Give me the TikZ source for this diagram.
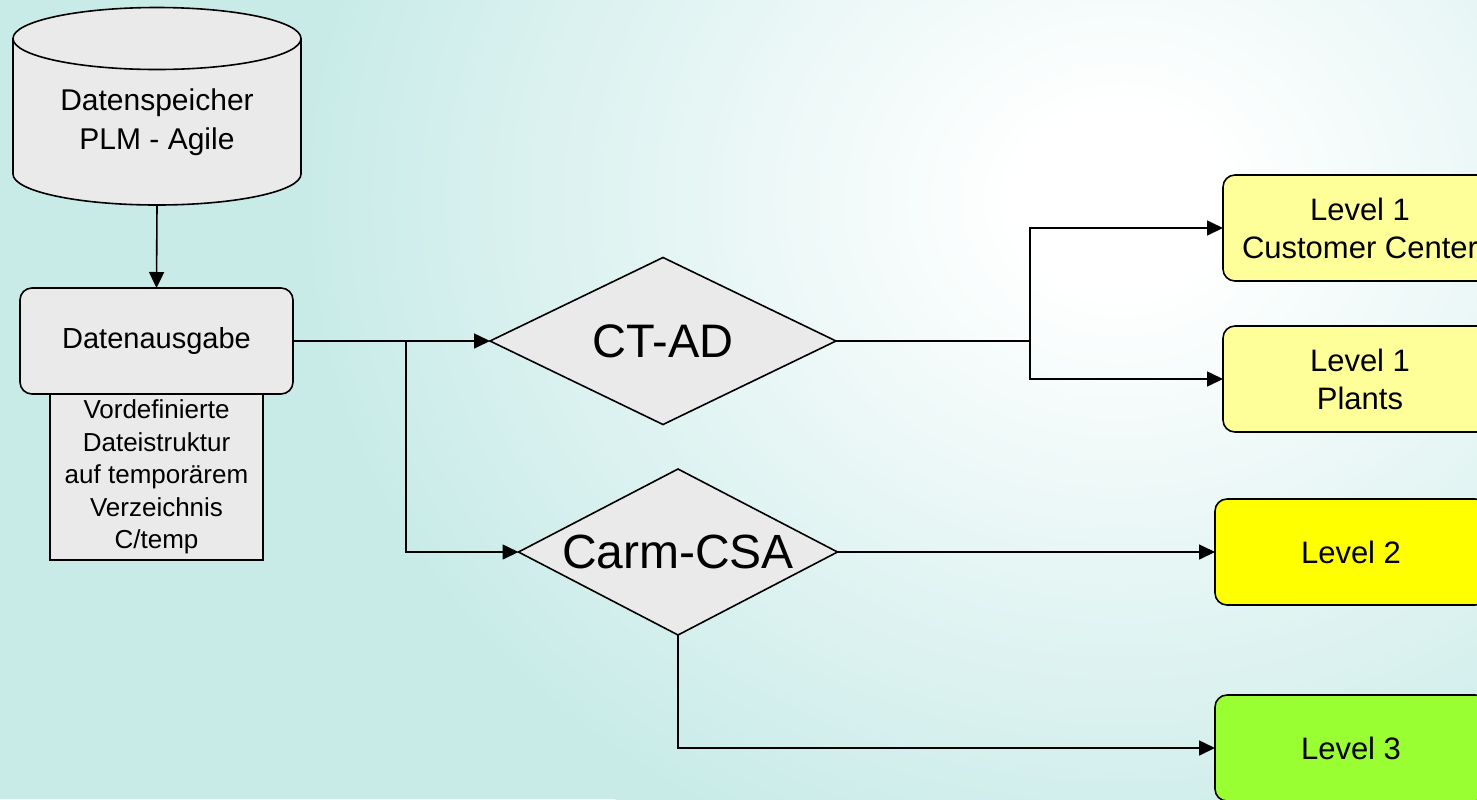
\documentclass[tikz,border=0pt]{standalone}
\usepackage{fontspec}
\setmainfont{Liberation Sans}
\usetikzlibrary{shapes.geometric,arrows.meta}
\definecolor{bgteal}{RGB}{200,235,232}
\definecolor{boxgray}{RGB}{234,234,234}
\definecolor{lvlone}{RGB}{255,255,153}
\definecolor{lvltwo}{RGB}{255,255,0}
\definecolor{lvlthree}{RGB}{153,255,51}
\pgfdeclareradialshading{glow}{\pgfpoint{0bp}{0bp}}{color(0bp)=(white); color(3bp)=(white); color(24bp)=(bgteal); color(50bp)=(bgteal)}
\begin{document}
\begin{tikzpicture}[x=0.5pt,y=-0.5pt,
  line width=0.8pt,
  arr/.style={-{Triangle[length=8pt,width=7.5pt]}},
  rbox/.style={draw, rounded corners=6pt, minimum width=137pt, minimum height=53pt, inner sep=0pt, outer sep=0pt, align=center, font=\fontsize{15.5}{19}\selectfont},
  dia/.style={draw, diamond, aspect=2, fill=boxgray, inner sep=0pt, outer sep=0pt, font=\fontsize{23.5}{28}\selectfont}
]
\useasboundingbox (0,0) rectangle (1477,799);
\clip (0,0) rectangle (1477,799);
\fill[bgteal] (0,0) rectangle (1477,799);
\shade[shading=glow] (1120,200) ellipse[x radius=430pt, y radius=370pt];

% cylinder (data store)
\fill[boxgray, draw=black] (157,174) ellipse [x radius=72pt, y radius=15.5pt];
\fill[boxgray] (13,38.5) rectangle (301,174);
\draw (13,38.5) -- (13,174) (301,38.5) -- (301,174);
\draw[fill=boxgray] (157,38.5) ellipse [x radius=72pt, y radius=15.5pt];
\node[align=center, font=\fontsize{15}{19.5}\selectfont] (db) at (157,122) {Datenspeicher\\PLM - Agile};
\coordinate (dbbot) at (157,205.5);

% output box
\node[rbox, fill=boxgray, minimum width=136.5pt, font=\fontsize{14.5}{19}\selectfont] (dat) at (156.5,341) {Datenausgabe};
\node[draw, fill=boxgray, anchor=north, minimum width=106.5pt, minimum height=83pt, inner sep=0pt, outer sep=0pt, align=center, font=\fontsize{13}{16.2}\selectfont] (sub) at (dat.south) {Vordefinierte\\Dateistruktur\\auf temporärem\\Verzeichnis\\C/temp};

% decisions
\node[dia, minimum width=173pt, minimum height=83.5pt] (ctad) at (663,341) {CT-AD};
\node[dia, minimum width=159.5pt, minimum height=83pt, font=\fontsize{24}{28}\selectfont] (carm) at (678,552) {Carm-CSA};

% levels
\node[rbox, fill=lvlone] (l1a) at (1360,228) {Level 1\\Customer Center};
\node[rbox, fill=lvlone] (l1b) at (1360,379) {Level 1\\Plants};
\node[rbox, fill=lvltwo, minimum width=136pt] (l2) at (1351,552) {Level 2};
\node[rbox, fill=lvlthree, minimum width=136pt] (l3) at (1351,748) {Level 3};

% connectors
\coordinate (j1) at (406,341);
\coordinate (j2) at (1030,341);
\draw[arr] (dbbot) -- (dat.north);
\draw (dat.east) -- (j1);
\draw[arr] (j1) -- (ctad.west);
\draw[arr] (j1) |- (carm.west);
\draw (ctad.east) -- (j2);
\draw[arr] (j2) |- (l1a.west);
\draw[arr] (j2) |- (l1b.west);
\draw[arr] (carm.east) -- (l2.west);
\draw[arr] (carm.south) |- (l3.west);
\end{tikzpicture}
\end{document}
